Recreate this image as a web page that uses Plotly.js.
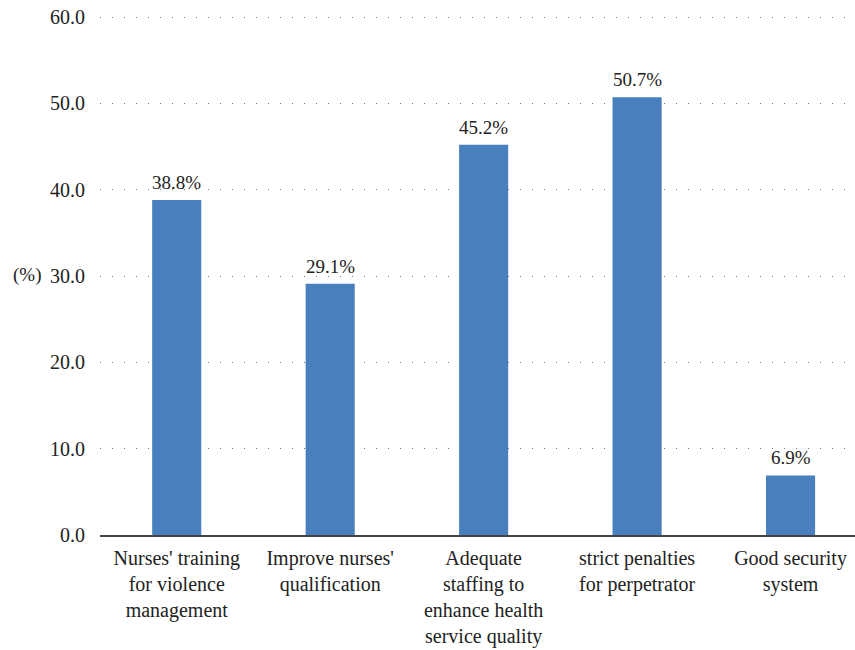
<!DOCTYPE html>
<html>
<head>
<meta charset="utf-8">
<script src="https://cdn.plot.ly/plotly-3.0.1.min.js"></script>
<style>html,body{margin:0;padding:0;background:#fff;}#chart{width:855px;height:650px;}</style>
</head>
<body>
<div id="chart"></div>
<script>
const categories = [
  "Nurses' training<br>for violence<br>management",
  "Improve nurses'<br>qualification",
  "Adequate<br>staffing to<br>enhance health<br>service quality",
  "strict penalties<br>for perpetrator",
  "Good security<br>system"
];
const values = [38.8, 29.1, 45.2, 50.7, 6.9];
const valueLabels = ["38.8%", "29.1%", "45.2%", "50.7%", "6.9%"];
const yTicks = [0, 10, 20, 30, 40, 50, 60];
const yTickLabels = ["0.0", "10.0", "20.0", "30.0", "40.0", "50.0", "60.0"];

const FONT = "'Liberation Serif'";

const trace = {
  type: 'bar',
  x: categories,
  y: values,
  marker: {color: '#4a7fbd'},
  hoverinfo: 'none'
};

const annotations = values.map((v, i) => ({
  x: categories[i], y: v, xref: 'x', yref: 'y',
  text: valueLabels[i], showarrow: false,
  yanchor: 'bottom', yshift: 5,
  font: {family: FONT, size: 19, color: '#222'}
}));
annotations.push({
  xref: 'paper', yref: 'paper', x: -0.118, y: 0.5,
  xanchor: 'left', yanchor: 'middle',
  text: '(%)', showarrow: false,
  font: {family: FONT, size: 19, color: '#222'}
});

const layout = {
  width: 855, height: 650,
  margin: {l: 100, r: 0, t: 14, b: 115},
  paper_bgcolor: '#fff', plot_bgcolor: '#fff',
  showlegend: false,
  bargap: 0.68,
  font: {family: FONT, size: 20, color: '#222'},
  xaxis: {
    range: [-0.5, 4.42],
    showgrid: false,
    showline: true, linecolor: '#444', linewidth: 1.5,
    ticks: '', tickangle: 0,
    tickfont: {family: FONT, size: 20, color: '#222'},
    ticklabelstandoff: 4,
    fixedrange: true
  },
  yaxis: {
    range: [0, 60.35],
    tickvals: yTicks, ticktext: yTickLabels,
    showgrid: true, gridcolor: '#777', gridwidth: 1,
    griddash: '1px,11px',
    zeroline: false, showline: false,
    ticks: '', ticklabelstandoff: 14,
    tickfont: {family: FONT, size: 20, color: '#222'},
    fixedrange: true
  },
  annotations: annotations
};

Plotly.newPlot('chart', [trace], layout, {displayModeBar: false, staticPlot: true});
</script>
</body>
</html>
